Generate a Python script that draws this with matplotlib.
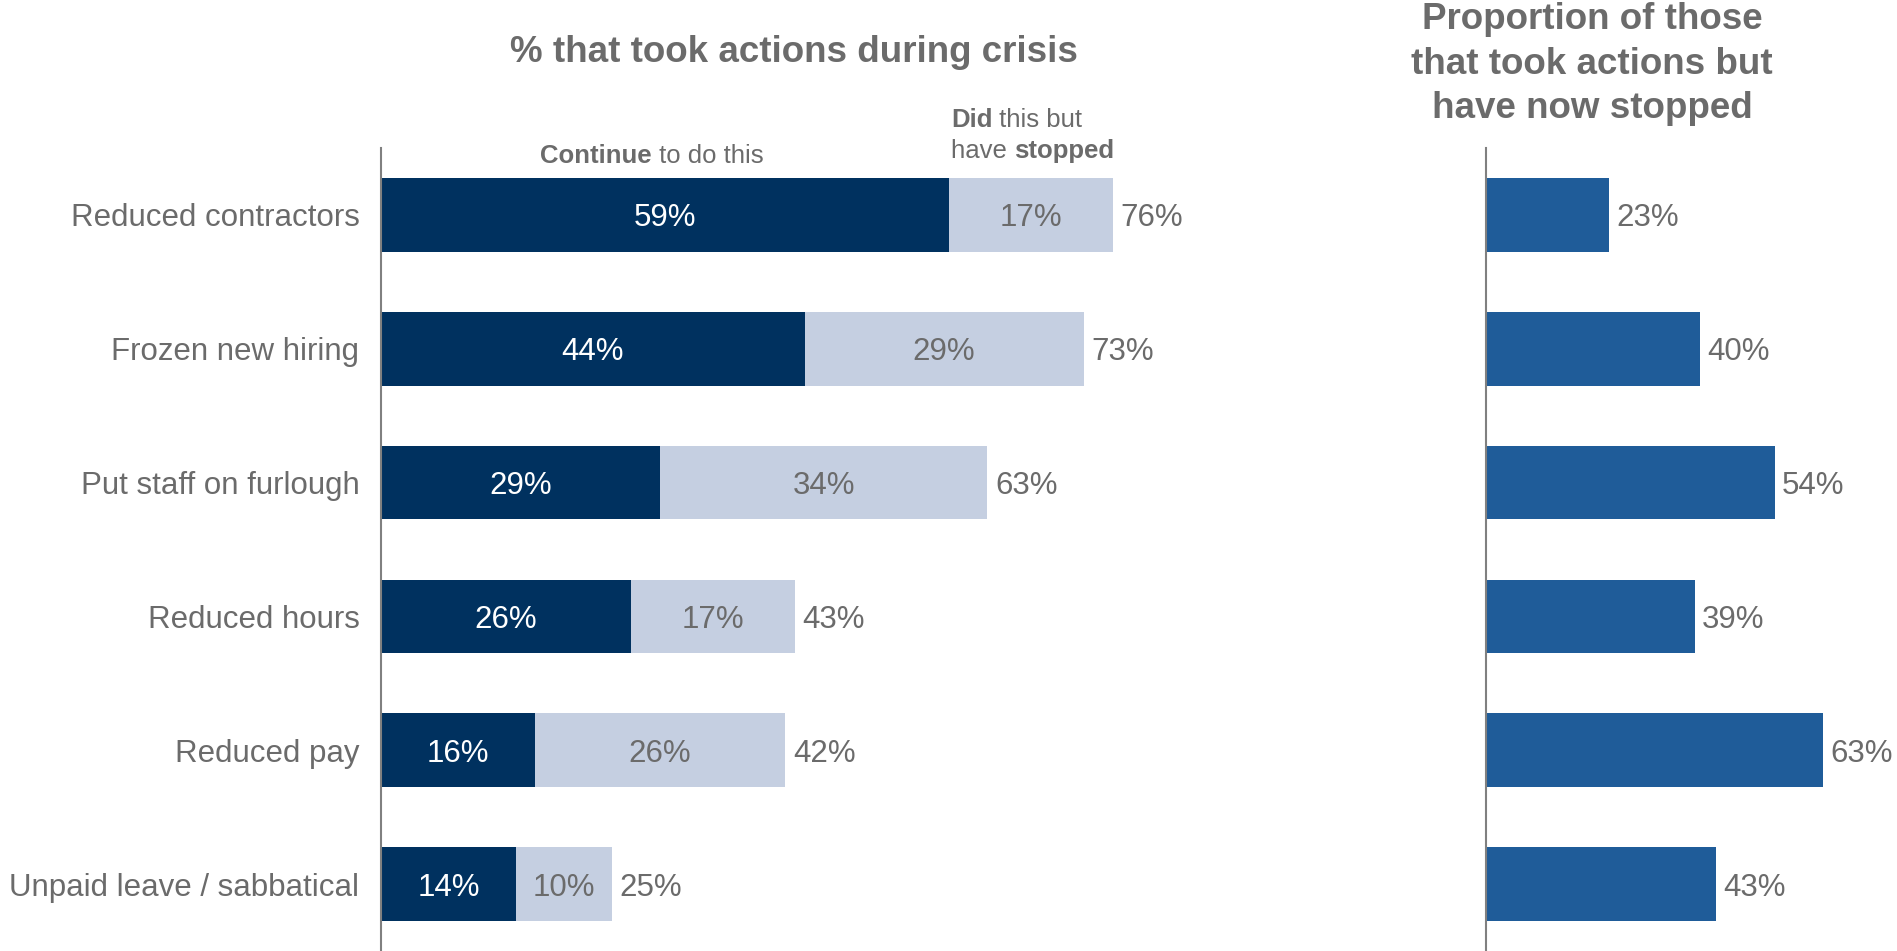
import matplotlib
matplotlib.use("Agg")
import matplotlib.pyplot as plt

plt.rcParams["font.family"] = ["Liberation Sans", "DejaVu Sans"]

categories = ["Reduced contractors", "Frozen new hiring", "Put staff on furlough",
              "Reduced hours", "Reduced pay", "Unpaid leave / sabbatical"]
continue_pct = [59, 44, 29, 26, 16, 14]
stopped_pct = [17, 29, 34, 17, 26, 10]
total_pct = [76, 73, 63, 43, 42, 25]
stopped_share = [23, 40, 54, 39, 63, 43]

DARK = "#00315F"
LIGHT = "#C5CFE1"
MID = "#1F5C99"
GREY = "#6B6B6B"
AXIS = "#808080"

W, H = 1897, 951
fig = plt.figure(figsize=(W / 100, H / 100), dpi=100)

# left panel: stacked bars
ax1 = fig.add_axes([381 / W, 0, 770 / W, 1 - 148 / H])
# right panel: share that stopped
ax2 = fig.add_axes([1486 / W, 0, 374.5 / W, 1 - 148 / H])

y = list(range(len(categories)))
h = 0.55
fs = 22.5

ax1.barh(y, continue_pct, height=h, color=DARK)
ax1.barh(y, stopped_pct, left=continue_pct, height=h, color=LIGHT)
for i in y:
    ax1.text(continue_pct[i] / 2, i, f"{continue_pct[i]}%", ha="center", va="center_baseline",
             color="white", fontsize=fs)
    ax1.text(continue_pct[i] + stopped_pct[i] / 2, i, f"{stopped_pct[i]}%", ha="center",
             va="center_baseline", color=GREY, fontsize=fs)
    ax1.text(continue_pct[i] + stopped_pct[i] + 0.8, i, f"{total_pct[i]}%", ha="left",
             va="center_baseline", color=GREY, fontsize=fs)

ax1.set_xlim(0, 80)
ax1.set_ylim(len(categories) - 0.5, -0.5)
ax1.set_yticks(y)
ax1.set_yticklabels(categories, fontsize=fs, color=GREY, va="center_baseline")
ax1.tick_params(axis="y", length=0, pad=15.5)
ax1.set_xticks([])

ax2.barh(y, stopped_share, height=h, color=MID)
for i in y:
    ax2.text(stopped_share[i] + 1.3, i, f"{stopped_share[i]}%", ha="left",
             va="center_baseline", color=GREY, fontsize=fs)
ax2.set_xlim(0, 70)
ax2.set_ylim(len(categories) - 0.5, -0.5)
ax2.set_yticks([])
ax2.set_xticks([])

for ax in (ax1, ax2):
    for s in ("top", "right", "bottom"):
        ax.spines[s].set_visible(False)
    ax.spines["left"].set_color(AXIS)
    ax.spines["left"].set_linewidth(1.5)
    ax.set_facecolor("none")

# titles
fig.text(794 / W, 1 - 53 / H, "% that took actions during crisis", ha="center", va="center",
         fontsize=26.5, fontweight="bold", color=GREY)
fig.text(1592 / W, 1 - 64 / H, "Proportion of those\nthat took actions but\nhave now stopped",
         ha="center", va="center", fontsize=26.5, fontweight="bold", color=GREY,
         linespacing=1.36)

# legend-like labels above first bar
lfs = 18.5
t = fig.text(540 / W, 1 - 163 / H, "Continue", ha="left", va="baseline", fontsize=lfs,
             fontweight="bold", color=GREY)
ax1.annotate(" to do this", xy=(1, 0), xycoords=t, va="bottom", ha="left",
             fontsize=lfs, color=GREY)

x0 = ax1.transData.transform((continue_pct[0], 0))[0] / W + 2 / W
t1 = fig.text(x0, 1 - 127 / H, "Did", ha="left", va="baseline", fontsize=lfs,
              fontweight="bold", color=GREY)
ax1.annotate(" this but", xy=(1, 0), xycoords=t1, va="bottom", ha="left",
             fontsize=lfs, color=GREY)
t2 = fig.text(x0, 1 - 158 / H, "have ", ha="left", va="baseline", fontsize=lfs, color=GREY)
ax1.annotate("stopped", xy=(1, 0), xycoords=t2, va="bottom", ha="left",
             fontsize=lfs, fontweight="bold", color=GREY)

fig.savefig("out.png", dpi=100)
